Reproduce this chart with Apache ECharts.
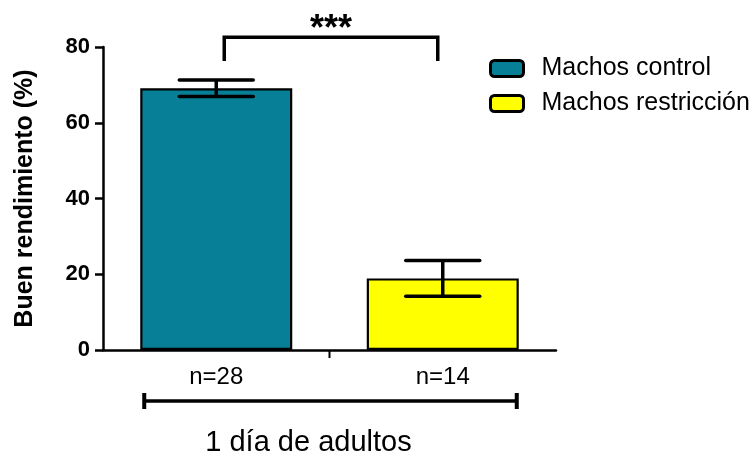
<!DOCTYPE html>
<html>
<head>
<meta charset="utf-8">
<script src="https://cdn.jsdelivr.net/npm/echarts@6/dist/echarts.min.js"></script>
<style>
  html, body { margin: 0; padding: 0; background: #fff; }
  #chart { width: 754px; height: 458px; }
</style>
</head>
<body>
<div id="chart"></div>
<script>
// Group sizes shown under each bar
const categories = ['n=28', 'n=14'];
// Groups (one bar each)
const groups = ['Machos control', 'Machos restricción'];
// Mean percentage of good performance and its standard error
const means = [69.1, 18.9];
const sems = [2.2, 4.7];
// Value axis range
const yMin = 0;
const yMax = 80;
const yStep = 20;
// Texts
const yTitle = 'Buen rendimiento (%)';
const significance = '***';
const groupLabel = '1 día de adultos';

const colors = ['#077f97', '#ffff00'];
const FONT = "'Liberation Sans', Arial, Helvetica, sans-serif";

const chart = echarts.init(document.getElementById('chart'), null, { renderer: 'canvas' });

// One bar series per group; the other category stays empty
const barSeries = groups.map((name, gi) => ({
  name: name,
  type: 'bar',
  data: categories.map((c, ci) => (ci === gi ? means[gi] : null)),
  barWidth: 152,
  barGap: '-100%',
  itemStyle: { color: colors[gi], borderColor: '#000', borderWidth: 2.2 },
  z: 2
}));

// Standard error whiskers
const errorSeries = {
  type: 'custom',
  name: 'sem',
  data: means.map((m, i) => [i, m, sems[i]]),
  z: 5,
  silent: true,
  renderItem: function (params, api) {
    const i = api.value(0), m = api.value(1), e = api.value(2);
    const top = api.coord([i, m + e]);
    const bot = api.coord([i, m - e]);
    const half = 37;
    const st = { stroke: '#000', lineWidth: 3.5, lineCap: 'round' };
    return {
      type: 'group',
      children: [
        { type: 'line', shape: { x1: top[0], y1: top[1], x2: bot[0], y2: bot[1] }, style: { stroke: '#000', lineWidth: 3.5 } },
        { type: 'line', shape: { x1: top[0] - half, y1: top[1], x2: top[0] + half, y2: top[1] }, style: st },
        { type: 'line', shape: { x1: bot[0] - half, y1: bot[1], x2: bot[0] + half, y2: bot[1] }, style: st }
      ]
    };
  }
};

// Significance bracket, middle axis tick and the bracket grouping both bars
const annotationSeries = {
  type: 'custom',
  name: 'annotations',
  data: [[0, 0]],
  z: 6,
  silent: true,
  clip: false,
  renderItem: function (params, api) {
    const c0 = api.coord([0, 0]);
    const c1 = api.coord([1, 0]);
    const base = c0[1];
    const topY = api.coord([0, 82.6])[1];
    const legY = api.coord([0, 76.3])[1];
    const l = c0[0] + 8, r = c1[0] - 5;
    const midX = (c0[0] + c1[0]) / 2;
    const by = base + 51;
    const l2 = c0[0] - 72, r2 = c1[0] + 74;
    return {
      type: 'group',
      children: [
        { type: 'polyline', shape: { points: [[l, legY], [l, topY], [r, topY], [r, legY]] },
          style: { stroke: '#000', lineWidth: 3.5, fill: null, lineJoin: 'miter' } },
        { type: 'text', x: (l + r) / 2, y: topY - 7,
          style: { text: significance, font: 'bold 36px ' + FONT, fill: '#000', align: 'center', verticalAlign: 'middle' } },
        { type: 'line', shape: { x1: midX, y1: base, x2: midX, y2: base + 8 }, style: { stroke: '#000', lineWidth: 2 } },
        { type: 'line', shape: { x1: l2, y1: by, x2: r2, y2: by }, style: { stroke: '#000', lineWidth: 3.5 } },
        { type: 'line', shape: { x1: l2, y1: by - 8, x2: l2, y2: by + 8 }, style: { stroke: '#000', lineWidth: 4 } },
        { type: 'line', shape: { x1: r2, y1: by - 8, x2: r2, y2: by + 8 }, style: { stroke: '#000', lineWidth: 4 } },
        { type: 'text', x: (l2 + r2) / 2 - 22, y: base + 93,
          style: { text: groupLabel, font: '29px ' + FONT, fill: '#000', align: 'center', verticalAlign: 'middle' } }
      ]
    };
  }
};

chart.setOption({
  animation: false,
  backgroundColor: '#fff',
  textStyle: { fontFamily: FONT },
  grid: { left: 103, right: 198, top: 47, bottom: 108, containLabel: false },
  legend: {
    data: groups,
    orient: 'vertical',
    left: 484,
    top: 51,
    itemWidth: 33,
    itemHeight: 16,
    itemGap: 10,
    icon: 'roundRect',
    itemStyle: { borderColor: '#000', borderWidth: 3 },
    textStyle: { fontSize: 25, color: '#000', fontFamily: FONT, padding: [0, 0, 0, 13] },
    selectedMode: false
  },
  xAxis: {
    type: 'category',
    data: categories,
    boundaryGap: true,
    axisLine: { show: true, lineStyle: { color: '#000', width: 2.5 } },
    axisTick: { show: false },
    axisLabel: { color: '#000', fontSize: 24, margin: 15, fontFamily: FONT },
    splitLine: { show: false }
  },
  yAxis: {
    type: 'value',
    min: yMin,
    max: yMax,
    interval: yStep,
    name: yTitle,
    nameLocation: 'middle',
    nameGap: 65,
    nameRotate: 90,
    nameTextStyle: { fontSize: 25, fontWeight: 'bold', color: '#000', fontFamily: FONT },
    axisLine: { show: true, lineStyle: { color: '#000', width: 2.5 } },
    axisTick: { show: true, length: 8, lineStyle: { color: '#000', width: 2.5 } },
    axisLabel: { color: '#000', fontSize: 22, fontWeight: 'bold', margin: 13, fontFamily: FONT },
    splitLine: { show: false }
  },
  series: barSeries.concat([errorSeries, annotationSeries])
});
</script>
</body>
</html>
